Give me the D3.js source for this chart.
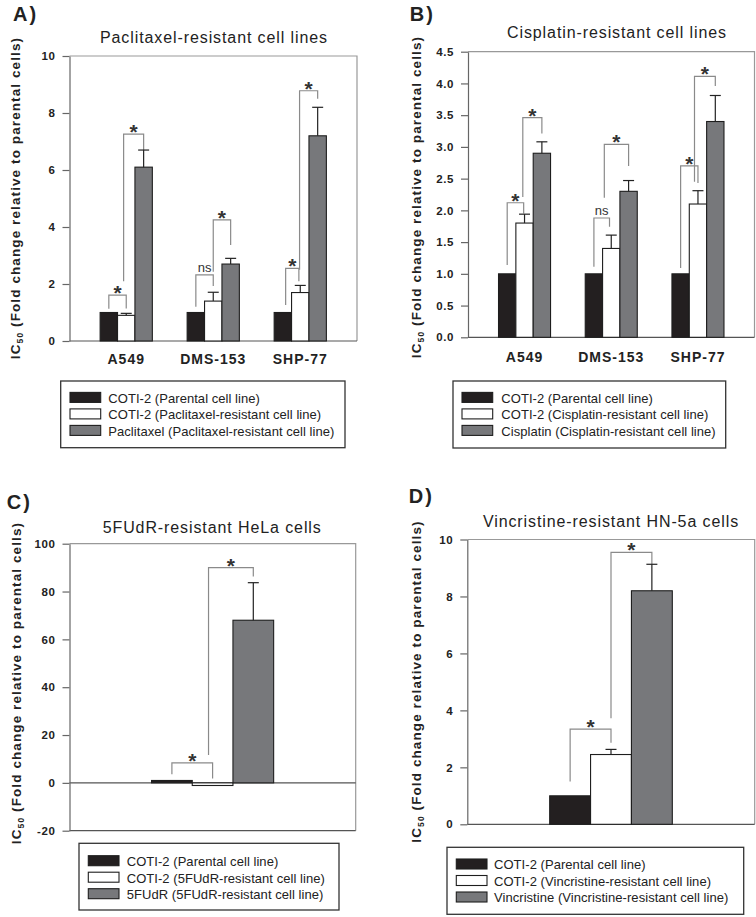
<!DOCTYPE html>
<html><head><meta charset="utf-8">
<script src="https://cdn.jsdelivr.net/npm/d3@7"></script>
<style>body{margin:0;background:#fff} svg{display:block;font-family:"Liberation Sans",Arial,sans-serif}</style>
</head><body>
<svg id="chart" width="756" height="917"></svg>
<script>
// ---------------- DATA ----------------
const groupsAB = ["A549", "DMS-153", "SHP-77"];
const groupsC = ["HeLa"];
const groupsD = ["HN-5a"];

// Panel A: Paclitaxel-resistant cell lines
const paclitaxelParental = [1.0, 1.0, 1.0];
const paclitaxelResistant = [0.9, 1.4, 1.7];
const paclitaxelDrug = [6.1, 2.7, 7.2];
const paclitaxelResistantErr = [0.07, 0.31, 0.25];
const paclitaxelDrugErr = [0.6, 0.2, 1.0];

// Panel B: Cisplatin-resistant cell lines
const cisplatinParental = [1.0, 1.0, 1.0];
const cisplatinResistant = [1.8, 1.4, 2.1];
const cisplatinDrug = [2.9, 2.3, 3.4];
const cisplatinResistantErr = [0.14, 0.21, 0.21];
const cisplatinDrugErr = [0.18, 0.17, 0.41];

// Panel C: 5FUdR-resistant HeLa cells
const fudrParental = [1.0];
const fudrResistant = [-1.1];
const fudrDrug = [68];
const fudrResistantErr = [0];
const fudrDrugErr = [15.7];

// Panel D: Vincristine-resistant HN-5a cells
const vincParental = [1.0];
const vincResistant = [2.45];
const vincDrug = [8.2];
const vincResistantErr = [0.18];
const vincDrugErr = [0.93];

// Tick values
const ticksA = [0, 2, 4, 6, 8, 10];
const ticksB = [0, 0.5, 1, 1.5, 2, 2.5, 3, 3.5, 4, 4.5];
const ticksC = [-20, 0, 20, 40, 60, 80, 100];
const ticksD = [0, 2, 4, 6, 8, 10];

// Significance brackets: [group, fromBar, toBar, leftStart, top, rightEnd, label]
const bracketsA = [
  [0, 0, 1, 1.13, 1.61, 1.14, "*"],
  [0, 0.85, 2, 2.1, 7.26, 6.7, "*"],
  [1, 0, 1, 1.2, 2.32, 1.93, "ns"],
  [1, 1, 2, 2.43, 4.25, 3.37, "*"],
  [2, 0.16, 0.92, 1.26, 2.55, 2.1, "*"],
  [2, 0.96, 2, 2.5, 8.78, 8.5, "*"]
];
const bracketsB = [
  [0, 0, 0.95, 1.14, 2.12, 1.95, "*"],
  [0, 0.9, 2, 2.21, 3.46, 3.21, "*"],
  [1, 0, 0.9, 1.11, 1.88, 1.74, "ns"],
  [1, 0.6, 2, 2.2, 3.04, 2.70, "*"],
  [2, 0, 1, 1.09, 2.70, 2.43, "*"],
  [2, 0.8, 2, 2.45, 4.11, 3.96, "*"]
];
const bracketsC = [
  [0, 0, 1, 3.6, 8.4, 1.8, "*"],
  [0, 0.9, 2, 11.6, 90, 86.3, "*"]
];
const bracketsD = [
  [0, 0, 1, 1.5, 3.34, 2.86, "*"],
  [0, 1, 2, 3.72, 9.55, 9.13, "*"]
];

// Legend labels
const legendA = ["COTI-2 (Parental cell line)", "COTI-2 (Paclitaxel-resistant cell line)", "Paclitaxel (Paclitaxel-resistant cell line)"];
const legendB = ["COTI-2 (Parental cell line)", "COTI-2 (Cisplatin-resistant cell line)", "Cisplatin (Cisplatin-resistant cell line)"];
const legendC = ["COTI-2 (Parental cell line)", "COTI-2 (5FUdR-resistant cell line)", "5FUdR (5FUdR-resistant cell line)"];
const legendD = ["COTI-2 (Parental cell line)", "COTI-2 (Vincristine-resistant cell line)", "Vincristine (Vincristine-resistant cell line)"];

const titles = ["Paclitaxel-resistant cell lines", "Cisplatin-resistant cell lines", "5FUdR-resistant HeLa cells", "Vincristine-resistant HN-5a cells"];
const panelLetters = ["A)", "B)", "C)", "D)"];

// ---------------- STYLE / LAYOUT ----------------
const barFills = ["#231f20", "#ffffff", "#77787b"];
const svg = d3.select("#chart");
const hyphenFmt = f => (v => f(v).replace("\u2212", "-"));

const panels = [
  {letter: panelLetters[0], letterPos: [13, 21], title: titles[0], titlePos: [214, 42.5],
   groups: groupsAB, series: [paclitaxelParental, paclitaxelResistant, paclitaxelDrug],
   errs: [null, paclitaxelResistantErr, paclitaxelDrugErr],
   domain: [0, 10], ticks: ticksA, fmt: hyphenFmt(d3.format("d")),
   left: 69.5, right: 357, top: 56, bottom: 341, pi: 0.4, po: 0.352,
   brackets: bracketsA, showCats: true, catY: 364,
   ylab: [19.5, 198],
   legend: legendA, legBox: [60.7, 381, 345, 447.7], legSw: 70, legTx: 108.3, legY: 402.7},
  {letter: panelLetters[1], letterPos: [409.7, 21], title: titles[1], titlePos: [617, 37.7],
   groups: groupsAB, series: [cisplatinParental, cisplatinResistant, cisplatinDrug],
   errs: [null, cisplatinResistantErr, cisplatinDrugErr],
   domain: [0, 4.5], ticks: ticksB, fmt: hyphenFmt(d3.format(".1f")),
   left: 468, right: 754.5, top: 51.7, bottom: 337.3, pi: 0.4, po: 0.352,
   brackets: bracketsB, showCats: true, catY: 362,
   ylab: [420.5, 197],
   legend: legendB, legBox: [453, 381, 725.7, 448], legSw: 462, legTx: 501.3, legY: 402.7},
  {letter: panelLetters[2], letterPos: [6.7, 509.3], title: titles[2], titlePos: [212.2, 532.7],
   groups: groupsC, series: [fudrParental, fudrResistant, fudrDrug],
   errs: [null, fudrResistantErr, fudrDrugErr],
   domain: [-20, 100], ticks: ticksC, fmt: hyphenFmt(d3.format("d")), zeroLine: true,
   left: 69.5, right: 355.7, top: 543.7, bottom: 830.7, pi: 0, po: 0.672,
   brackets: bracketsC, showCats: false,
   ylab: [20.7, 683],
   legend: legendC, legBox: [79, 843.3, 339, 910], legSw: 88.3, legTx: 126.7, legY: 866},
  {letter: panelLetters[3], letterPos: [408.7, 503.3], title: titles[3], titlePos: [611, 526.7],
   groups: groupsD, series: [vincParental, vincResistant, vincDrug],
   errs: [null, vincResistantErr, vincDrugErr],
   domain: [0, 10], ticks: ticksD, fmt: hyphenFmt(d3.format("d")),
   left: 467.3, right: 754.7, top: 539.5, bottom: 824.3, pi: 0, po: 0.672,
   brackets: bracketsD, showCats: false,
   ylab: [421.3, 681.5],
   legend: legendD, legBox: [447, 847.3, 743.7, 914.3], legSw: 456.3, legTx: 494, legY: 869.3}
];

function drawPanel(p) {
  const g = svg.append("g");
  const y = d3.scaleLinear().domain(p.domain).range([p.bottom, p.top]);
  const x0 = d3.scaleBand().domain(p.groups).range([p.left, p.right]).paddingInner(p.pi).paddingOuter(p.po);
  const x1 = d3.scaleBand().domain([0, 1, 2]).range([0, x0.bandwidth()]);
  const slotX = (gi, s) => x0(p.groups[gi]) + x1.step() * (s + 0.5);

  // panel letter + title
  g.append("text").attr("x", p.letterPos[0]).attr("y", p.letterPos[1])
    .attr("font-size", 20).attr("font-weight", "bold").attr("letter-spacing", 2).attr("fill", "#222").text(p.letter);
  g.append("text").attr("x", p.titlePos[0]).attr("y", p.titlePos[1]).attr("text-anchor", "middle")
    .attr("font-size", 16).attr("letter-spacing", 0.9).attr("fill", "#222").text(p.title);

  // frame top/right
  g.append("path").attr("d", `M${p.left},${p.top}H${p.right}V${p.bottom}`)
    .attr("fill", "none").attr("stroke", "#999").attr("stroke-width", 1.2);

  // zero line (panel C)
  if (p.zeroLine) {
    g.append("line").attr("x1", p.left).attr("x2", p.right).attr("y1", y(0)).attr("y2", y(0))
      .attr("stroke", "#555").attr("stroke-width", 1.2);
  }

  // bottom axis line
  g.append("line").attr("x1", p.left).attr("x2", p.right).attr("y1", p.bottom).attr("y2", p.bottom)
    .attr("stroke", "#555").attr("stroke-width", 1.2);

  // left axis
  const ax = g.append("g").attr("transform", `translate(${p.left},0)`)
    .call(d3.axisLeft(y).tickValues(p.ticks).tickFormat(p.fmt).tickSize(7).tickPadding(7).tickSizeOuter(0));
  ax.select(".domain").attr("stroke", "#666").attr("stroke-width", 1.2);
  ax.selectAll(".tick line").attr("stroke", "#666").attr("stroke-width", 1.2);
  ax.selectAll(".tick text").attr("font-size", 11.5).attr("font-weight", "bold").attr("letter-spacing", 0.6)
    .attr("fill", "#222").attr("font-family", "Liberation Sans, Arial, sans-serif");

  // brackets
  p.brackets.forEach(b => {
    const xa = slotX(b[0], b[1]), xb = slotX(b[0], b[2]);
    g.append("path").attr("d", `M${xa},${y(b[3])}V${y(b[4])}H${xb}V${y(b[5])}`)
      .attr("fill", "none").attr("stroke", "#8a8a8a").attr("stroke-width", 1.2);
    const cx = (xa + xb) / 2;
    if (b[6] === "*") {
      g.append("text").attr("x", cx).attr("y", y(b[4]) + 5).attr("text-anchor", "middle")
        .attr("font-size", 21).attr("font-weight", "bold").attr("fill", "#333").text("*");
    } else {
      g.append("text").attr("x", cx).attr("y", y(b[4]) - 3.3).attr("text-anchor", "middle")
        .attr("font-size", 13).attr("fill", "#333").text(b[6]);
    }
  });

  // bars
  p.groups.forEach((grp, gi) => {
    p.series.forEach((ser, si) => {
      const v = ser[gi];
      const bx = x0(grp) + x1(si);
      g.append("rect").attr("x", bx).attr("width", x1.bandwidth())
        .attr("y", y(Math.max(0, v))).attr("height", Math.abs(y(v) - y(0)))
        .attr("fill", barFills[si]).attr("stroke", "#1e1e1e").attr("stroke-width", 1.1);
      const e = p.errs[si] ? p.errs[si][gi] : 0;
      if (e > 0) {
        const cx = bx + x1.bandwidth() / 2;
        const top = v + (v >= 0 ? e : -e);
        g.append("line").attr("x1", cx).attr("x2", cx).attr("y1", y(v)).attr("y2", y(top))
          .attr("stroke", "#222").attr("stroke-width", 1.2);
        g.append("line").attr("x1", cx - 5.5).attr("x2", cx + 5.5).attr("y1", y(top)).attr("y2", y(top))
          .attr("stroke", "#222").attr("stroke-width", 1.2);
      }
    });
    if (p.showCats) {
      g.append("text").attr("x", x0(grp) + x0.bandwidth() / 2).attr("y", p.catY).attr("text-anchor", "middle")
        .attr("font-size", 14).attr("font-weight", "bold").attr("letter-spacing", 1).attr("fill", "#222").text(grp);
    }
  });

  // y-axis label
  const yl = g.append("text").attr("transform", `translate(${p.ylab[0]},${p.ylab[1]}) rotate(-90)`)
    .attr("text-anchor", "middle").attr("font-size", 13.5).attr("font-weight", "bold")
    .attr("letter-spacing", 1.1).attr("fill", "#222");
  yl.append("tspan").text("IC");
  yl.append("tspan").attr("font-size", 8.5).attr("dy", 3).text("50");
  yl.append("tspan").attr("dy", -3).text(" (Fold change relative to parental cells)");

  // legend
  const lb = p.legBox;
  g.append("rect").attr("x", lb[0]).attr("y", lb[1]).attr("width", lb[2] - lb[0]).attr("height", lb[3] - lb[1])
    .attr("fill", "#fff").attr("stroke", "#333").attr("stroke-width", 1.3);
  p.legend.forEach((t, i) => {
    const by = p.legY + i * 16.5;
    g.append("rect").attr("x", p.legSw).attr("y", by - 10.3).attr("width", 30.7).attr("height", 10)
      .attr("fill", barFills[i]).attr("stroke", "#1e1e1e").attr("stroke-width", 1.1);
    g.append("text").attr("x", p.legTx).attr("y", by).attr("font-size", 13).attr("letter-spacing", 0.05)
      .attr("fill", "#222").text(t);
  });
}

panels.forEach(drawPanel);
</script>
</body></html>
